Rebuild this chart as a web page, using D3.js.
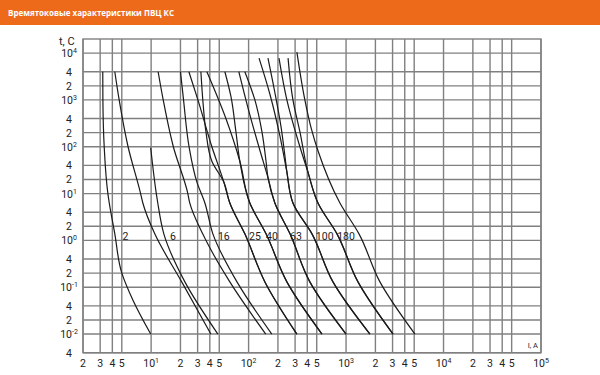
<!DOCTYPE html>
<html>
<head>
<meta charset="utf-8">
<script src="https://cdn.jsdelivr.net/npm/d3@7"></script>
<style>
  body { margin: 0; background: #fff; }
  svg { display: block; }
</style>
</head>
<body>
<div id="container"></div>
<script>
// ---- data ----
let title = "Времятоковые характеристики ПВЦ КС";

let xTicks = [2, 3, 4, 5, 10, 20, 30, 40, 50, 100, 200, 300, 400, 500, 1000,
              2000, 3000, 4000, 5000, 10000, 20000, 30000, 40000, 50000, 100000];
let xTickLabels = ["2", "3", "4", "5", "10^1", "2", "3", "4", "5", "10^2", "2", "3", "4", "5", "10^3",
                   "2", "3", "4", "5", "10^4", "2", "3", "4", "5", "10^5"];

let yTicks = [10000, 4000, 2000, 1000, 400, 200, 100, 40, 20, 10, 4, 2, 1,
              0.4, 0.2, 0.1, 0.04, 0.02, 0.01, 0.004];
let yTickLabels = ["10^4", "4", "2", "10^3", "4", "2", "10^2", "4", "2", "10^1", "4", "2", "10^0",
                   "4", "2", "10^-1", "4", "2", "10^-2", "4"];

// curves: [current A, time s]
let c01 = [[3.19, 4000], [3.2, 1000], [3.3, 100], [3.6, 10], [3.72, 6.3], [4.24, 1.38], [4.97, 0.21], [6.53, 0.052], [9.9, 0.01]];
let c02 = [[4.24, 4000], [4.7, 1000], [5.8, 100], [7.8, 10], [8.22, 6.3], [10.9, 1.38], [20.6, 0.13], [41, 0.01]];
let c03 = [[9.9, 95], [11.3, 10], [11.7, 6.3], [13.5, 1.38], [22.2, 0.13], [48.4, 0.01]];
let c04 = [[11.8, 4000], [13.3, 1000], [16.9, 100], [23.8, 10], [24.9, 6.3], [33.8, 1.38], [64.2, 0.13], [150, 0.01]];
let c05 = [[20, 4000], [21.5, 1000], [24.5, 100], [29.5, 17.6], [35.6, 6.3], [43, 1.38], [76, 0.13], [173, 0.01]];
let c06 = [[24.4, 4000], [30.2, 1000], [42, 100], [55.7, 17.6], [64.2, 6.3], [91.5, 1.38], [147, 0.13], [313, 0.01]];
let c07 = [[32.4, 4000], [33.9, 1000], [36.5, 210], [42, 49], [55.7, 17.6], [64.2, 6.3], [91.5, 1.38], [147, 0.13], [313, 0.01]];
let c08 = [[37.3, 4000], [58.5, 400], [81.3, 49], [103, 6.3], [151, 1.38], [247, 0.13], [566, 0.01]];
let c09 = [[57.1, 4000], [65.8, 1200], [74.1, 210], [81.3, 49], [103, 6.3], [151, 1.38], [247, 0.13], [566, 0.01]];
let c10 = [[79.4, 4000], [98.4, 686], [131, 82], [158, 22], [186, 6.3], [266, 1.38], [425, 0.13], [1000, 0.01]];
let c11 = [[91.5, 4000], [116, 1000], [137, 210], [151, 49], [158, 22], [186, 6.3], [266, 1.38], [425, 0.13], [1000, 0.01]];
let c12 = [[128, 7800], [166, 1290], [210, 166], [247, 29], [285, 6.3], [447, 1.38], [734, 0.13], [1757, 0.01]];
let c13 = [[158, 7800], [186, 1440], [215, 269], [236, 63], [247, 29], [285, 6.3], [447, 1.38], [734, 0.13], [1757, 0.01]];
let c14 = [[205, 7800], [247, 1000], [336, 100], [406, 29], [515, 6.3], [807, 1.38], [1325, 0.13], [3033, 0.01]];
let c15 = [[254, 7800], [285, 1000], [336, 210], [406, 29], [515, 6.3], [807, 1.38], [1325, 0.13], [3033, 0.01]];
let c16 = [[313, 10500], [378, 1000], [440, 244], [515, 82], [865, 6.3], [1357, 1.38], [2225, 0.13], [5087, 0.01]];

let ratings = ["2", "6", "16", "25", "40", "63", "100", "180"];
let ratingLabelI = [5.1, 15.6, 48.4, 101, 151, 266, 490, 811];
let ratingLabelT = 1;

let curves = [c01, c02, c03, c04, c05, c06, c07, c08, c09, c10, c11, c12, c13, c14, c15, c16];

// ---- layout ----
let w = 600;
let h = 375;
let plotLeft = 83;
let plotRight = 541;
let plotTop = 39;
let plotBottom = 352.7;

let svg = d3.select("#container").append("svg")
    .attr("width", w)
    .attr("height", h)
    .style("background-color", "white");

// header bar
svg.append("rect")
    .attr("x", 0).attr("y", 0)
    .attr("width", w).attr("height", 25)
    .attr("fill", "#ee6a1b");

svg.append("text")
    .attr("x", 8).attr("y", 16)
    .attr("fill", "white")
    .attr("font-family", "'Open Sans', sans-serif")
    .attr("font-weight", "bold")
    .attr("font-size", 8)
    .text(title);

let xScale = d3.scaleLog().domain([2, 100000]).range([plotLeft, plotRight]);
let yScale = d3.scaleLog().domain([0.004, 20000]).range([plotBottom, plotTop]);

let gridColor = "#808080";

// grid
svg.append("g").selectAll("line").data(xTicks)
  .enter().append("line")
    .attr("x1", d => xScale(d)).attr("x2", d => xScale(d))
    .attr("y1", plotTop).attr("y2", plotBottom)
    .attr("stroke", gridColor)
    .attr("stroke-width", 1.4);

svg.append("g").selectAll("line").data(yTicks)
  .enter().append("line")
    .attr("x1", plotLeft).attr("x2", plotRight)
    .attr("y1", d => yScale(d)).attr("y2", d => yScale(d))
    .attr("stroke", gridColor)
    .attr("stroke-width", 1.4);

svg.append("rect")
    .attr("x", plotLeft).attr("y", plotTop)
    .attr("width", plotRight - plotLeft).attr("height", plotBottom - plotTop)
    .attr("fill", "none")
    .attr("stroke", gridColor)
    .attr("stroke-width", 1.4);

// write "10^n" as 10 with a raised exponent
function putLabel(sel, str) {
  let parts = str.split("^");
  sel.append("tspan").text(parts[0]);
  if (parts.length > 1) {
    sel.append("tspan")
      .attr("dy", -4)
      .attr("font-size", 7)
      .text(parts[1]);
  }
}

let fontFam = "Roboto, sans-serif";

// x labels
xTicks.forEach(function(d, i) {
  let t = svg.append("text")
    .attr("x", xScale(d))
    .attr("y", 367)
    .attr("text-anchor", "middle")
    .attr("font-family", fontFam)
    .attr("font-size", 10.5)
    .attr("fill", "#222");
  putLabel(t, xTickLabels[i]);
});

// y labels
yTicks.forEach(function(d, i) {
  let t = svg.append("text")
    .attr("x", 69)
    .attr("y", yScale(d) + 4)
    .attr("text-anchor", "middle")
    .attr("font-family", fontFam)
    .attr("font-size", 10.5)
    .attr("fill", "#222");
  putLabel(t, yTickLabels[i]);
});

svg.append("text")
    .attr("x", 59).attr("y", 45)
    .attr("font-family", fontFam)
    .attr("font-size", 11)
    .attr("fill", "#222")
    .text("t, C");

svg.append("text")
    .attr("x", 538).attr("y", 348)
    .attr("text-anchor", "end")
    .attr("font-family", fontFam)
    .attr("font-size", 7.5)
    .attr("fill", "#222")
    .text("I, A");

// curves
let line = d3.line()
    .x(d => xScale(d[0]))
    .y(d => yScale(d[1]))
    .curve(d3.curveMonotoneY);

svg.append("g").selectAll("path").data(curves)
  .enter().append("path")
    .attr("d", line)
    .attr("fill", "none")
    .attr("stroke", "#1b1b1b")
    .attr("stroke-width", 1.2);

// rating labels
svg.append("g").selectAll("text").data(ratings)
  .enter().append("text")
    .attr("x", (d, i) => xScale(ratingLabelI[i]))
    .attr("y", yScale(ratingLabelT))
    .attr("font-family", fontFam)
    .attr("font-size", 10.5)
    .attr("fill", "#222")
    .text(d => d);
</script>
</body>
</html>
